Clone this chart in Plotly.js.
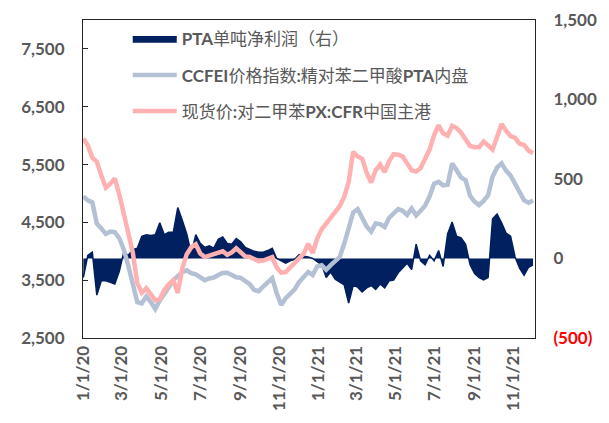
<!DOCTYPE html>
<html>
<head>
<meta charset="utf-8">
<script src="https://cdn.plot.ly/plotly-3.0.1.min.js"></script>
<style>html,body{margin:0;padding:0;background:#fff;}#chart{width:609px;height:423px;}</style>
</head>
<body>
<div id="chart"></div>
<script>
// Weekly observation dates
const dates = [
'2020-01-01','2020-01-08','2020-01-15','2020-01-22','2020-01-29',
'2020-02-05','2020-02-12','2020-02-19','2020-02-26',
'2020-03-04','2020-03-11','2020-03-18','2020-03-25',
'2020-04-01','2020-04-08','2020-04-15','2020-04-22','2020-04-29',
'2020-05-06','2020-05-13','2020-05-20','2020-05-27',
'2020-06-03','2020-06-10','2020-06-17','2020-06-24',
'2020-07-01','2020-07-08','2020-07-15','2020-07-22','2020-07-29',
'2020-08-05','2020-08-12','2020-08-19','2020-08-26',
'2020-09-02','2020-09-09','2020-09-16','2020-09-23','2020-09-30',
'2020-10-07','2020-10-14','2020-10-21','2020-10-28',
'2020-11-04','2020-11-11','2020-11-18','2020-11-25',
'2020-12-02','2020-12-09','2020-12-16','2020-12-23','2020-12-30',
'2021-01-06','2021-01-13','2021-01-20','2021-01-27',
'2021-02-03','2021-02-10','2021-02-17','2021-02-24',
'2021-03-03','2021-03-10','2021-03-17','2021-03-24','2021-03-31',
'2021-04-07','2021-04-14','2021-04-21','2021-04-28',
'2021-05-05','2021-05-12','2021-05-19','2021-05-26',
'2021-06-02','2021-06-09','2021-06-16','2021-06-23','2021-06-30',
'2021-07-07','2021-07-14','2021-07-21','2021-07-28',
'2021-08-04','2021-08-11','2021-08-18','2021-08-25',
'2021-09-01','2021-09-08','2021-09-15','2021-09-22','2021-09-29',
'2021-10-06','2021-10-13','2021-10-20','2021-10-27',
'2021-11-03','2021-11-10','2021-11-17','2021-11-24',
'2021-12-01'
];

// 现货价:对二甲苯PX:CFR中国主港 (left axis)
const pxPrice = [
5950,5830,5620,5550,5310,5100,5170,5260,4980,4620,4350,3980,3450,
3280,3360,3250,3150,3170,3330,3430,3500,3280,3700,3950,4070,4120,
3960,3900,3930,3950,3990,4000,3940,3980,4050,3990,3910,3900,3860,
3830,3840,3880,3900,3720,3630,3640,3720,3810,3880,3960,4130,3970,
4220,4380,4480,4580,4690,4780,4940,5200,5720,5640,5600,5360,5190,
5400,5500,5370,5560,5680,5670,5640,5520,5400,5380,5440,5600,5760,
6010,6180,6040,6000,6170,6130,6050,5930,5820,5800,5800,5900,5820,
5760,5980,6200,6085,5990,5960,5860,5840,5740,5700
];

// CCFEI价格指数:精对苯二甲酸PTA内盘 (left axis)
const ptaIndex = [
4950,4880,4845,4480,4395,4300,4340,4330,4225,4030,3750,3430,3120,
3100,3220,3120,3000,3150,3250,3380,3500,3560,3640,3670,3620,3600,
3550,3500,3530,3545,3590,3625,3630,3585,3550,3540,3480,3430,3330,
3310,3390,3460,3535,3275,3070,3190,3270,3340,3470,3570,3640,3590,
3740,3760,3680,3760,3830,3900,4130,4380,4670,4730,4560,4430,4340,
4480,4470,4420,4580,4660,4730,4700,4630,4740,4620,4700,4790,4950,
5170,5200,5140,5150,5517,5400,5275,5230,4960,4860,4800,4870,4970,
5290,5450,5520,5395,5310,5170,5030,4880,4840,4880
];

// PTA单吨净利润（右） (right axis)
const ptaProfit = [
-120,20,40,-230,-140,-140,-150,-160,-80,40,20,55,65,
140,150,145,150,225,150,165,165,320,240,155,30,150,
95,70,80,65,120,135,95,90,125,105,70,55,45,
40,40,50,65,0,-15,-30,-15,-5,25,15,10,0,
-20,-40,-120,-85,-130,-150,-165,-280,-170,-180,-210,-185,-170,
-195,-160,-185,-140,-135,-90,-60,-30,-70,90,-15,-40,20,
-15,50,-50,155,230,140,130,90,-40,-95,-120,-135,-120,
250,280,225,160,140,10,-60,-105,-55,-40
];

const leftTicks = [2500,3500,4500,5500,6500,7500];
const rightTicks = [-500,0,500,1000,1500];
const rightTickText = ['<span style="color:#FF0000">(500)</span>','0','500','1,000','1,500'];

const names = {
  profit: '<b>PTA</b>单吨净利润（右）',
  pta: '<b>CCFEI</b>价格指数<b>:</b>精对苯二甲酸<b>PTA</b>内盘',
  px: '现货价<b>:</b>对二甲苯<b>PX:CFR</b>中国主港'
};

const FONT = 'Lato, "Noto Sans CJK SC", sans-serif';
const GREY = '#595959';

const traces = [
  {
    x: dates, y: ptaProfit, name: names.profit, type: 'scatter', mode: 'lines',
    yaxis: 'y', fill: 'tozeroy', fillcolor: '#002060',
    line: {color: '#002060', width: 1.5, shape: 'linear'}, legendgroup: 'a'
  },
  {
    x: dates, y: ptaIndex, name: names.pta, type: 'scatter', mode: 'lines',
    yaxis: 'y2', line: {color: '#B4C0D3', width: 4.5}, legendgroup: 'b'
  },
  {
    x: dates, y: pxPrice, name: names.px, type: 'scatter', mode: 'lines',
    yaxis: 'y2', line: {color: '#FFB1B1', width: 4.5}, legendgroup: 'c'
  }
];

const layout = {
  width: 609, height: 423,
  margin: {l: 83, r: 74, t: 20, b: 85},
  paper_bgcolor: '#ffffff', plot_bgcolor: '#ffffff',
  font: {family: FONT, color: GREY, size: 17},
  showlegend: true,
  legend: {
    x: 0.099, y: 0.996, xanchor: 'left', yanchor: 'top',
    bgcolor: 'rgba(0,0,0,0)', borderwidth: 0,
    font: {family: FONT, color: GREY, size: 17},
    traceorder: 'grouped', tracegroupgap: 11, itemwidth: 44
  },
  xaxis: {
    type: 'date', range: ['2019-12-31 12:00', '2021-12-04'],
    tick0: '2020-01-01', dtick: 'M2', tickformat: '%-m/%-d/%y',
    tickangle: -90, showgrid: false, zeroline: false,
    showline: true, linecolor: '#262626', linewidth: 1, mirror: true,
    ticks: '', tickfont: {family: FONT, color: GREY, size: 17, weight: 'bold'}
  },
  yaxis: {
    side: 'right', range: [-500, 1500],
    tickvals: rightTicks, ticktext: rightTickText,
    showgrid: false, zeroline: false,
    showline: true, linecolor: '#262626', linewidth: 1,
    ticks: '', ticklabelstandoff: 14,
    tickfont: {family: FONT, color: GREY, size: 17, weight: 'bold'}
  },
  yaxis2: {
    overlaying: 'y', side: 'left', range: [2500, 8000],
    tickvals: leftTicks, tickformat: ',d',
    showgrid: false, zeroline: false,
    showline: true, linecolor: '#262626', linewidth: 1,
    ticks: 'inside', ticklen: 5, tickcolor: '#262626', ticklabelstandoff: 14,
    tickfont: {family: FONT, color: GREY, size: 17, weight: 'bold'}
  }
};

Plotly.newPlot('chart', traces, layout, {staticPlot: true, displayModeBar: false});
</script>
</body>
</html>
